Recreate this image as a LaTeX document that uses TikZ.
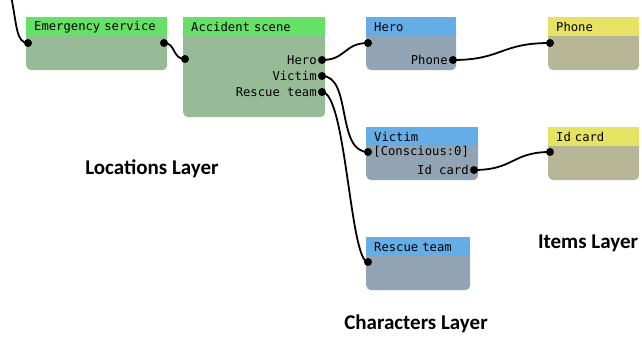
\documentclass[tikz,border=0pt]{standalone}
\usepackage{fontspec}
\setmainfont{Carlito}
\newfontfamily\monofont{DejaVu Sans Mono}
\usepackage{tikz}
\usetikzlibrary{positioning,calc}
\definecolor{locHead}{HTML}{66E066}
\definecolor{locBody}{HTML}{96BB96}
\definecolor{chrHead}{HTML}{64ADE6}
\definecolor{chrBody}{HTML}{92A4B4}
\definecolor{itmHead}{HTML}{E6E264}
\definecolor{itmBody}{HTML}{B7B696}
\tikzset{
  bodybox/.style={anchor=north west,rounded corners=5pt,inner sep=0pt,minimum height=#1},
  hdr/.style={anchor=north west,inner xsep=8pt,inner ysep=0pt,minimum height=19pt,
    align=left,font=\monofont\fontsize{12.2}{13}\selectfont},
  port/.style={circle,fill=black,inner sep=0pt,minimum size=8pt},
  plabel/.style={inner sep=0pt,font=\monofont\fontsize{12.2}{13}\selectfont},
  wire/.style={line width=1.8pt,black},
  layer/.style={font=\bfseries\fontsize{21}{24}\selectfont}
}
\begin{document}
\begin{tikzpicture}[x=1pt,y=-1pt]
\useasboundingbox (0,0) rectangle (642,337);
%Locations
\node[bodybox=53pt,fill=locBody,minimum width=141pt] (esBody) at (26,17) {};
\node[hdr,fill=locHead,text width=125pt] (es) at (esBody.north west) {Emergency service};
\node[bodybox=100pt,fill=locBody,minimum width=142pt] (asBody) at (183,17) {};
\node[hdr,fill=locHead,text width=126pt] (as) at (asBody.north west) {Accident scene};
%Characters
\node[bodybox=53pt,fill=chrBody,minimum width=90pt] (heroBody) at (366,17) {};
\node[hdr,fill=chrHead,text width=74pt] (hero) at (heroBody.north west) {Hero};
\node[bodybox=53pt,fill=chrBody,minimum width=112pt] (victimBody) at (366,127) {};
\node[hdr,fill=chrHead,text width=96pt] (victim) at (victimBody.north west) {Victim};
\node[bodybox=53pt,fill=chrBody,minimum width=104pt] (rescueBody) at (366,237) {};
\node[hdr,fill=chrHead,text width=88pt] (rescue) at (rescueBody.north west) {Rescue team};
%Items
\node[bodybox=53pt,fill=itmBody,minimum width=91pt] (phoneBody) at (548,17) {};
\node[hdr,fill=itmHead,text width=75pt] (phone) at (phoneBody.north west) {Phone};
\node[bodybox=53pt,fill=itmBody,minimum width=91pt] (idBody) at (548,127) {};
\node[hdr,fill=itmHead,text width=75pt] (idcard) at (idBody.north west) {Id card};
%Ports
\node[port] (esIn) at (28,43) {};
\node[port] (esOut) at (164,43) {};
\node[port] (asIn) at (185,59) {};
\node[port] (asHero) at (322,60) {};
\node[port] (asVictim) at (322,76) {};
\node[port] (asRescue) at (322,92) {};
\node[port] (heroIn) at (368,43) {};
\node[port] (heroPhone) at (453,60) {};
\node[port] (victimIn) at (368,152) {};
\node[port] (victimId) at (474,170) {};
\node[port] (rescueIn) at (368,262) {};
\node[port] (phoneIn) at (550,43) {};
\node[port] (idIn) at (550,152) {};
\node[plabel,left=1pt of asHero] {Hero};
\node[plabel,left=1pt of asVictim] {Victim};
\node[plabel,left=1pt of asRescue] {Rescue team};
\node[plabel,left=1pt of heroPhone] {Phone};
\node[plabel,right=1pt of victimIn] {[Conscious:0]};
\node[plabel,left=1pt of victimId] {Id card};
%Wires
\coordinate (offTop) at (11,-4);
\draw[wire] (offTop) .. controls (17,25) and (16,43) .. (esIn.center);
\draw[wire] (esOut.center) .. controls (176,43) and (172,59) .. (asIn.center);
\draw[wire] (asHero.center) .. controls (346,60) and (344,43) .. (heroIn.center);
\draw[wire] (asVictim.center) .. controls (352,76) and (336,152) .. (victimIn.center);
\draw[wire] (asRescue.center) .. controls (346,92) and (350,262) .. (rescueIn.center);
\draw[wire] (heroPhone.center) .. controls (502,60) and (500,43) .. (phoneIn.center);
\draw[wire] (victimId.center) .. controls (514,170) and (512,152) .. (idIn.center);
%Layers
\node[layer] (locLayer) at (152,169) {Locations Layer};
\node[layer] (chrLayer) at (416,324) {Characters Layer};
\node[layer] (itmLayer) at (588,243) {Items Layer};
\end{tikzpicture}
\end{document}
